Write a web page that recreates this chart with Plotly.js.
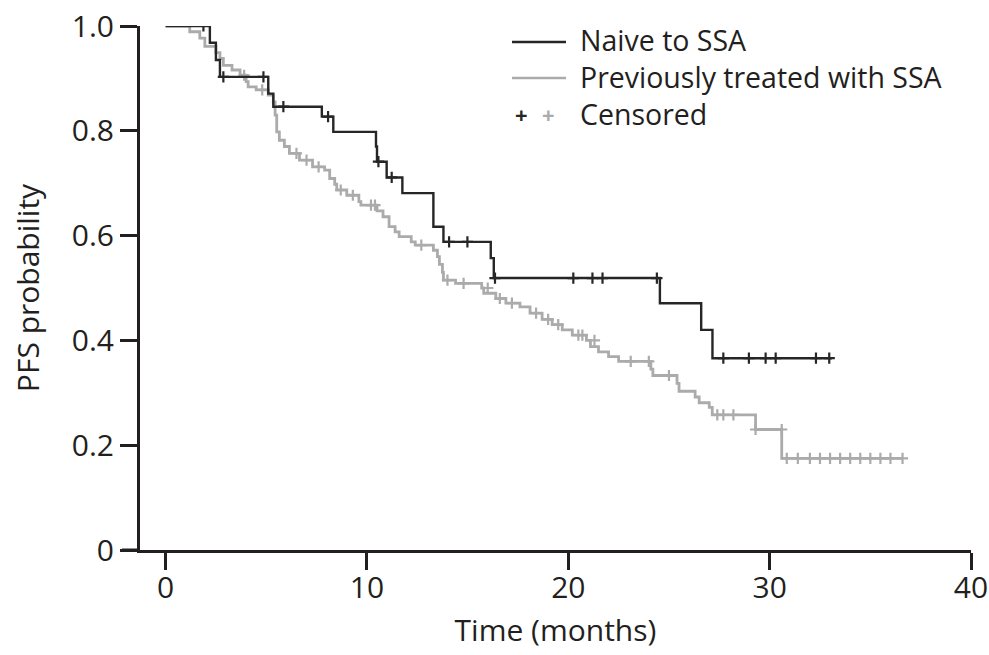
<!DOCTYPE html>
<html>
<head>
<meta charset="utf-8">
<script src="https://cdn.plot.ly/plotly-3.0.1.min.js"></script>
<style>html,body{margin:0;padding:0;background:#fff;}#chart{width:989px;height:655px;}</style>
</head>
<body>
<div id="chart"></div>
<script>
// Naive to SSA: step curve (time in months, survival probability)
const naiveTime = [0, 2.2, 2.5, 2.7, 5.1, 5.35, 7.76, 8.33, 10.45, 10.5, 10.98, 11.76, 13.3, 13.8, 16.15, 16.3, 24.55, 26.6, 27.16, 33.1];
const naiveSurv = [1.0, 0.968, 0.935, 0.903, 0.871, 0.846, 0.827, 0.798, 0.77, 0.741, 0.711, 0.681, 0.617, 0.588, 0.557, 0.519, 0.471, 0.42, 0.366, 0.366];
const naiveCensTime = [1.88, 2.87, 4.86, 5.85, 8.07, 10.57, 11.23, 14.08, 14.99, 16.36, 20.25, 21.2, 21.7, 24.4, 27.7, 28.97, 29.8, 30.3, 32.3, 32.96];
const naiveCensSurv = [1.0, 0.903, 0.903, 0.846, 0.827, 0.741, 0.711, 0.588, 0.588, 0.519, 0.519, 0.519, 0.519, 0.519, 0.366, 0.366, 0.366, 0.366, 0.366, 0.366];

// Previously treated with SSA
const prevTime = [0, 1.2, 1.7, 1.95, 2.5, 2.7, 2.87, 3.3, 3.7, 4.0, 4.1, 4.5, 5.1, 5.35, 5.44, 5.52, 5.65, 5.9, 6.15, 6.65, 7.3, 7.9, 8.15, 8.4, 8.5, 9.0, 9.6, 9.7, 10.5, 10.8, 11.1, 11.4, 11.6, 12.2, 12.4, 13.3, 13.5, 13.6, 13.75, 13.8, 14.4, 15.7, 15.8, 16.4, 16.9, 17.6, 18.1, 18.7, 19.2, 19.7, 20.2, 20.9, 21.1, 21.5, 22.0, 22.5, 24.1, 24.2, 25.4, 25.5, 26.3, 26.5, 27.0, 27.15, 29.3, 30.6, 36.6];
const prevSurv = [1.0, 0.989, 0.977, 0.961, 0.949, 0.938, 0.925, 0.916, 0.906, 0.894, 0.884, 0.878, 0.868, 0.855, 0.83, 0.798, 0.782, 0.77, 0.757, 0.744, 0.731, 0.725, 0.709, 0.698, 0.687, 0.677, 0.665, 0.658, 0.647, 0.636, 0.617, 0.607, 0.598, 0.588, 0.582, 0.572, 0.56, 0.545, 0.53, 0.515, 0.509, 0.5, 0.49, 0.48, 0.471, 0.464, 0.452, 0.44, 0.43, 0.42, 0.41, 0.4, 0.388, 0.378, 0.369, 0.36, 0.345, 0.333, 0.318, 0.303, 0.292, 0.281, 0.272, 0.258, 0.23, 0.175, 0.175];
const prevCensTime = [3.9, 4.8, 6.5, 7.0, 7.6, 8.7, 9.3, 10.2, 10.4, 12.7, 14.0, 14.8, 16.0, 16.6, 17.2, 18.4, 19.0, 19.5, 20.5, 20.7, 21.3, 23.1, 24.0, 25.0, 27.4, 27.7, 28.2, 29.3, 30.6, 30.85, 31.4, 32.0, 32.5, 33.0, 33.5, 34.0, 34.5, 35.0, 35.5, 36.0, 36.6];
const prevCensSurv = [0.906, 0.878, 0.757, 0.744, 0.731, 0.687, 0.677, 0.658, 0.658, 0.582, 0.515, 0.509, 0.5, 0.48, 0.471, 0.452, 0.44, 0.43, 0.41, 0.41, 0.4, 0.36, 0.36, 0.333, 0.258, 0.258, 0.258, 0.23, 0.23, 0.175, 0.175, 0.175, 0.175, 0.175, 0.175, 0.175, 0.175, 0.175, 0.175, 0.175, 0.175];

const xTicks = [0, 10, 20, 30, 40];
const yTicks = [0, 0.2, 0.4, 0.6, 0.8, 1.0];
const yTickText = ['0', '0.2', '0.4', '0.6', '0.8', '1.0'];
const legendNames = ['Naive to SSA', 'Previously treated with SSA', 'Censored'];

const BLACK = '#262626';
const GRAY = '#ababab';
const TXT = '#231f20';
const FONT = 'Open Sans, Noto Sans, sans-serif';
const FS = 30;

const traces = [
  {x: prevTime, y: prevSurv, mode: 'lines', line: {shape: 'hv', color: GRAY, width: 2.8}, showlegend: false, hoverinfo: 'skip'},
  {x: prevCensTime, y: prevCensSurv, mode: 'markers', marker: {symbol: 'cross-thin', size: 8, line: {color: GRAY, width: 2.2}}, showlegend: false, hoverinfo: 'skip'},
  {x: naiveTime, y: naiveSurv, mode: 'lines', line: {shape: 'hv', color: BLACK, width: 2.4}, showlegend: false, hoverinfo: 'skip'},
  {x: naiveCensTime, y: naiveCensSurv, mode: 'markers', marker: {symbol: 'cross-thin', size: 8, line: {color: BLACK, width: 2.2}}, showlegend: false, hoverinfo: 'skip'}
];

// paper coords helpers (plot area: x 140..971, y 26..550)
const px = v => (v - 140) / 831;
const py = v => (550 - v) / 524;

const layout = {
  width: 989, height: 655,
  margin: {l: 140, r: 18, t: 26, b: 105},
  paper_bgcolor: '#fff', plot_bgcolor: '#fff',
  font: {family: FONT, color: TXT, size: FS},
  xaxis: {
    range: [-1.27, 40], showgrid: false, zeroline: false,
    showline: true, linecolor: TXT, linewidth: 3,
    ticks: 'outside', ticklen: 17, tickwidth: 3, tickcolor: TXT,
    ticklabelstandoff: -8,
    tickvals: xTicks, ticktext: xTicks.map(String),
    tickfont: {family: FONT, size: FS, color: TXT},
    title: {text: 'Time (months)', font: {family: FONT, size: FS, color: TXT}, standoff: 14}
  },
  yaxis: {
    range: [0, 1.0], showgrid: false, zeroline: false,
    showline: true, linecolor: TXT, linewidth: 3,
    ticks: 'outside', ticklen: 17, tickwidth: 3, tickcolor: TXT,
    tickvals: yTicks, ticktext: yTickText,
    tickfont: {family: FONT, size: FS, color: TXT},
    title: {text: 'PFS probability', font: {family: FONT, size: FS, color: TXT}, standoff: 24}
  },
  shapes: [
    {type: 'line', xref: 'paper', yref: 'paper', x0: px(122), x1: 0, y0: 0, y1: 0, line: {color: TXT, width: 3}},
    {type: 'line', xref: 'paper', yref: 'paper', x0: px(512), x1: px(566), y0: py(42), y1: py(42), line: {color: BLACK, width: 2.5}},
    {type: 'line', xref: 'paper', yref: 'paper', x0: px(512), x1: px(566), y0: py(78), y1: py(78), line: {color: GRAY, width: 2.5}}
  ],
  annotations: [
    {xref: 'paper', yref: 'paper', x: px(578), y: py(77), xanchor: 'left', yanchor: 'middle', align: 'left', showarrow: false,
     text: legendNames.join('<br>'), font: {family: FONT, size: 28.5, color: TXT}},
    {xref: 'paper', yref: 'paper', x: px(521), y: py(114), xanchor: 'center', yanchor: 'middle', showarrow: false, text: '<b>+</b>', font: {family: FONT, size: 22, color: BLACK}},
    {xref: 'paper', yref: 'paper', x: px(548), y: py(114), xanchor: 'center', yanchor: 'middle', showarrow: false, text: '<b>+</b>', font: {family: FONT, size: 22, color: GRAY}}
  ]
};

Plotly.newPlot('chart', traces, layout, {staticPlot: true, displayModeBar: false});
</script>
</body>
</html>
